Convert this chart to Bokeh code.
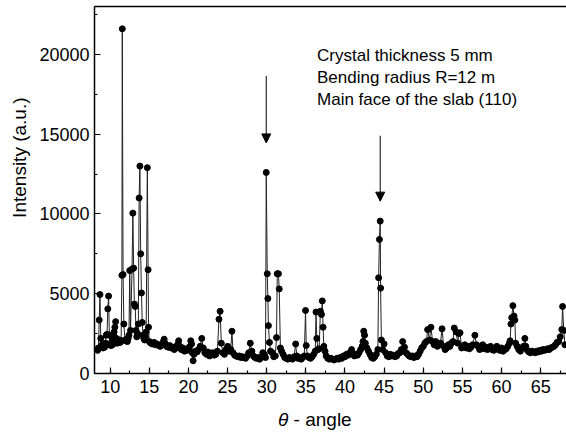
import math
from bokeh.plotting import figure
from bokeh.layouts import column
from bokeh.models import (Range1d, SingleIntervalTicker, FixedTicker, LinearAxis, Label, Arrow,
                          NormalHead, ColumnDataSource, Title, Div)
from bokeh.embed import file_html
from bokeh.resources import INLINE

# ---- data ----
theta = [
    8.4, 8.5, 8.6, 8.7, 8.8, 8.9, 9.0, 9.1, 9.2, 9.3, 9.4, 9.5, 9.6, 9.7, 9.8, 9.9,
    10.0, 10.1, 10.2, 10.3, 10.4, 10.5, 10.6, 10.7, 10.8, 10.9, 11.0, 11.1, 11.2, 11.3, 11.4,
    11.5, 11.55, 11.65, 11.75, 11.9, 12.0, 12.1, 12.2, 12.3, 12.4, 12.5, 12.6, 12.8, 12.9,
    13.0, 13.1, 13.2, 13.3, 13.4, 13.5, 13.6, 13.7, 13.8, 13.9, 14.0, 14.1, 14.2, 14.3, 14.4,
    14.5, 14.6, 14.75, 14.85, 14.9, 15.0, 15.2, 15.4, 15.6, 15.8, 16.0, 16.2, 16.4, 16.6,
    16.8, 16.9, 17.0, 17.2, 17.4, 17.6, 17.8, 18.0, 18.2, 18.4, 18.6, 18.75, 18.9, 19.1,
    19.3, 19.5, 19.7, 19.9, 20.1, 20.3, 20.4, 20.5, 20.6, 20.7, 20.9, 21.1, 21.3, 21.5,
    21.7, 21.9, 22.1, 22.3, 22.5, 22.7, 22.9, 23.1, 23.3, 23.5, 23.7, 23.9, 24.05, 24.2,
    24.4, 24.6, 24.8, 25.0, 25.2, 25.4, 25.56, 25.7, 25.9, 26.1, 26.3, 26.5, 26.7, 26.9,
    27.1, 27.3, 27.5, 27.7, 27.9, 28.1, 28.3, 28.5, 28.7, 28.9, 29.1, 29.3, 29.5, 29.7,
    29.85, 29.94, 30.07, 30.15, 30.22, 30.35, 30.5, 30.7, 30.9, 31.1, 31.25, 31.35, 31.5,
    31.6, 31.75, 31.9, 32.1, 32.3, 32.5, 32.7, 32.9, 33.1, 33.3, 33.5, 33.7, 33.85, 34.0,
    34.2, 34.4, 34.6, 34.8, 34.96, 35.05, 35.2, 35.4, 35.6, 35.8, 36.0, 36.2, 36.3, 36.4,
    36.55, 36.7, 36.86, 37.0, 37.1, 37.2, 37.3, 37.45, 37.6, 37.8, 38.0, 38.2, 38.4, 38.6,
    38.8, 39.0, 39.2, 39.4, 39.6, 39.8, 40.0, 40.2, 40.4, 40.6, 40.85, 41.0, 41.2, 41.4,
    41.6, 41.8, 42.0, 42.2, 42.3, 42.4, 42.5, 42.6, 42.8, 43.0, 43.2, 43.4, 43.6, 43.8,
    44.0, 44.2, 44.3, 44.4, 44.5, 44.55, 44.65, 44.8, 45.0, 45.2, 45.4, 45.6, 45.8, 46.0,
    46.2, 46.4, 46.6, 46.8, 47.0, 47.2, 47.37, 47.6, 47.8, 48.0, 48.2, 48.4, 48.6, 48.8,
    49.0, 49.2, 49.4, 49.6, 49.8, 50.0, 50.2, 50.4, 50.56, 50.8, 50.98, 51.2, 51.4, 51.6,
    51.8, 52.0, 52.2, 52.4, 52.6, 52.8, 53.0, 53.2, 53.4, 53.6, 53.8, 53.96, 54.2, 54.4,
    54.55, 54.7, 54.9, 55.1, 55.3, 55.5, 55.7, 55.9, 56.1, 56.3, 56.6, 56.8, 57.0, 57.2,
    57.4, 57.6, 57.8, 58.0, 58.2, 58.4, 58.6, 58.8, 59.0, 59.2, 59.4, 59.6, 59.8, 60.0,
    60.2, 60.4, 60.6, 60.8, 61.0, 61.1, 61.2, 61.3, 61.45, 61.6, 61.7, 61.8, 62.0, 62.2,
    62.4, 62.6, 62.8, 62.98, 63.1, 63.3, 63.5, 63.7, 63.9, 64.1, 64.3, 64.5, 64.7, 64.9,
    65.1, 65.3, 65.5, 65.7, 65.9, 66.1, 66.3, 66.5, 66.7, 66.9, 67.1, 67.3, 67.5, 67.7,
    67.8, 67.95, 68.1,
]
intensity = [
    1450, 1600, 3350, 4950, 2200, 1700, 1800, 1600, 1750, 1650, 1900, 2400, 2450, 4050, 4850, 2400,
    1800, 1750, 2000, 1800, 2300, 2600, 2900, 3250, 2200, 1900, 1950, 2000, 2100, 1950, 2050,
    6150, 21600, 6200, 3100, 2100, 2050, 2150, 2000, 2200, 2400, 6450, 2700, 6550, 10050,
    6600, 4350, 4200, 2700, 2300, 2500, 3100, 11000, 13000, 7500, 5050, 3200, 2400, 2200, 2100,
    2300, 2600, 12900, 6500, 2900, 2000, 1900, 1850, 1950, 1800, 1850, 1750, 1700, 1800,
    2000, 2150, 1900, 1700, 1650, 1750, 1600, 1650, 1500, 1600, 1800, 2050, 1700, 1500,
    1600, 1400, 1500, 1450, 1650, 2050, 1850, 1300, 800, 1200, 1400, 1350, 1500, 1700,
    2200, 1600, 1300, 1200, 1350, 1100, 1250, 1300, 1150, 1200, 1400, 3400, 3900, 1900,
    1300, 1200, 1500, 1700, 1400, 1500, 2650, 1300, 1150, 1100, 1050, 1100, 1000, 1050,
    1000, 950, 1100, 1300, 1900, 1400, 1100, 1000, 950, 1000, 900, 1000, 1300, 1200,
    1000, 12600, 6250, 4700, 3000, 1950, 1400, 1300, 1050, 1100, 2250, 6250, 6250,
    5300, 1600, 1400, 1200, 1000, 950, 900, 1000, 950, 900, 1050, 1850, 1100, 950,
    1000, 900, 1000, 1100, 3950, 1750, 1100, 1000, 950, 1050, 1200, 1400, 3850, 2200,
    1500, 1550, 3900, 3700, 4550, 2900, 1700, 1400, 1100, 950, 900, 950, 900, 850,
    900, 950, 900, 1000, 950, 1100, 1050, 1200, 1150, 1300, 1500, 1250, 1100, 1200,
    1150, 1300, 1500, 1700, 2000, 2650, 2400, 1900, 1600, 1400, 1200, 1000, 950, 1050,
    1200, 1500, 6000, 8400, 9550, 5350, 2100, 1500, 1850, 1300, 1100, 1050, 1200, 1100,
    1150, 1050, 1100, 1250, 1300, 1500, 2000, 1650, 1300, 1200, 1100, 1050, 1100, 1000,
    1100, 1050, 1200, 1400, 1600, 1700, 1900, 2000, 2750, 2100, 2900, 2000, 1800, 2000,
    1700, 1800, 1900, 2800, 1700, 1500, 1600, 1800, 1700, 1900, 2000, 2850, 2600, 1900,
    2500, 2550, 1600, 1700, 1800, 1600, 1700, 1550, 1650, 1800, 2400, 1800, 1700, 1500,
    1600, 1800, 1550, 1650, 1500, 1600, 1700, 1500, 1450, 1600, 1700, 1500, 1450, 1600,
    1400, 1500, 1550, 1700, 1900, 2050, 3100, 3500, 4250, 3600, 3350, 1900, 1700, 1500,
    1400, 1600, 1700, 2200, 1700, 1450, 1350, 1300, 1400, 1350, 1300, 1400, 1350, 1450,
    1400, 1500, 1450, 1500, 1550, 1500, 1600, 1650, 1700, 1800, 1950, 2000, 2300, 2750,
    4200, 2700, 1800,
]

x_ticks_interval = 5
y_ticks_interval = 5000
notes = ["Crystal thickness 5 mm", "Bending radius R=12 m", "Main face of the slab (110)"]
arrow_x = [29.94, 44.5]
arrow_top = [18650, 14900]
arrow_tip = [14450, 10800]

FONT = "Liberation Sans"
W = 566
FIG_H = 400
DIV_H = 34

X0, X1 = 8.0, 68.3
Y0, Y1 = 0, 23000
p = figure(width=W, height=FIG_H, x_range=Range1d(X0, X1), y_range=Range1d(Y0, Y1),
           output_backend="svg", toolbar_location=None,
           min_border_left=93, min_border_right=0, min_border_top=6,
           min_border_bottom=FIG_H - 373)

p.xgrid.visible = False
p.ygrid.visible = False
p.outline_line_color = None
p.background_fill_color = "white"
p.border_fill_color = "white"

for ax in (p.xaxis[0], p.yaxis[0]):
    ax.axis_line_width = 1.5
    ax.major_tick_in = 6
    ax.major_tick_out = 0
    ax.minor_tick_in = 3
    ax.minor_tick_out = 0
    ax.major_tick_line_width = 1.2
    ax.minor_tick_line_width = 1.2
    ax.major_label_text_font = FONT
    ax.major_label_text_font_size = "18px"
    ax.major_label_text_color = "black"
    ax.axis_label = None

p.xaxis[0].ticker = SingleIntervalTicker(interval=x_ticks_interval, num_minor_ticks=2)
p.yaxis[0].ticker = SingleIntervalTicker(interval=y_ticks_interval, num_minor_ticks=2)
p.xaxis[0].major_label_standoff = 6
p.yaxis[0].major_label_standoff = 5

# top border line as an empty axis
top = LinearAxis(ticker=FixedTicker(ticks=[]), axis_line_width=1.5, major_tick_in=0,
                 major_tick_out=0, minor_tick_in=0, minor_tick_out=0,
                 major_label_text_font_size="0px", major_label_standoff=0, axis_label=None)
p.add_layout(top, "above")

src = ColumnDataSource(dict(x=theta, y=intensity))
p.line("x", "y", source=src, line_color="#222222", line_width=1)
p.scatter("x", "y", source=src, size=6, marker="circle", fill_color="black", line_color="black")

# pixel -> data helpers (frame 93..566 x, 6..373 y)
def dx(px):
    return X0 + (px - 93) * (X1 - X0) / (566 - 93)

def dy(py):
    return Y0 + (373 - py) * (Y1 - Y0) / (373 - 6)

for i, t in enumerate(notes):
    p.add_layout(Label(x=dx(316), y=dy(55 + 22 * i), text=t, text_font=FONT,
                       text_font_size="17px", text_baseline="alphabetic", text_color="black"))

for xa, yt, ye in zip(arrow_x, arrow_top, arrow_tip):
    p.add_layout(Arrow(end=NormalHead(size=9, fill_color="black", line_color="black"),
                       x_start=xa, y_start=yt, x_end=xa, y_end=ye,
                       line_color="black", line_width=1))

# y axis title
p.add_layout(Title(text="Intensity (a.u.)", align="right", offset=91, text_font=FONT,
                   text_font_size="19px", text_font_style="normal", text_color="black",
                   standoff=13), "left")

# x axis title (italic theta) as HTML text below the figure
xlab = Div(text="<i>θ</i> - angle", width=W, height=DIV_H, margin=0,
           styles={"font-family": FONT, "font-size": "19px", "line-height": "22px",
                   "padding-left": "278px", "padding-top": "9px", "color": "black",
                   "box-sizing": "border-box", "background": "white"})

layout = column(p, xlab, spacing=0)

open("out.html", "w").write(file_html(layout, INLINE))
